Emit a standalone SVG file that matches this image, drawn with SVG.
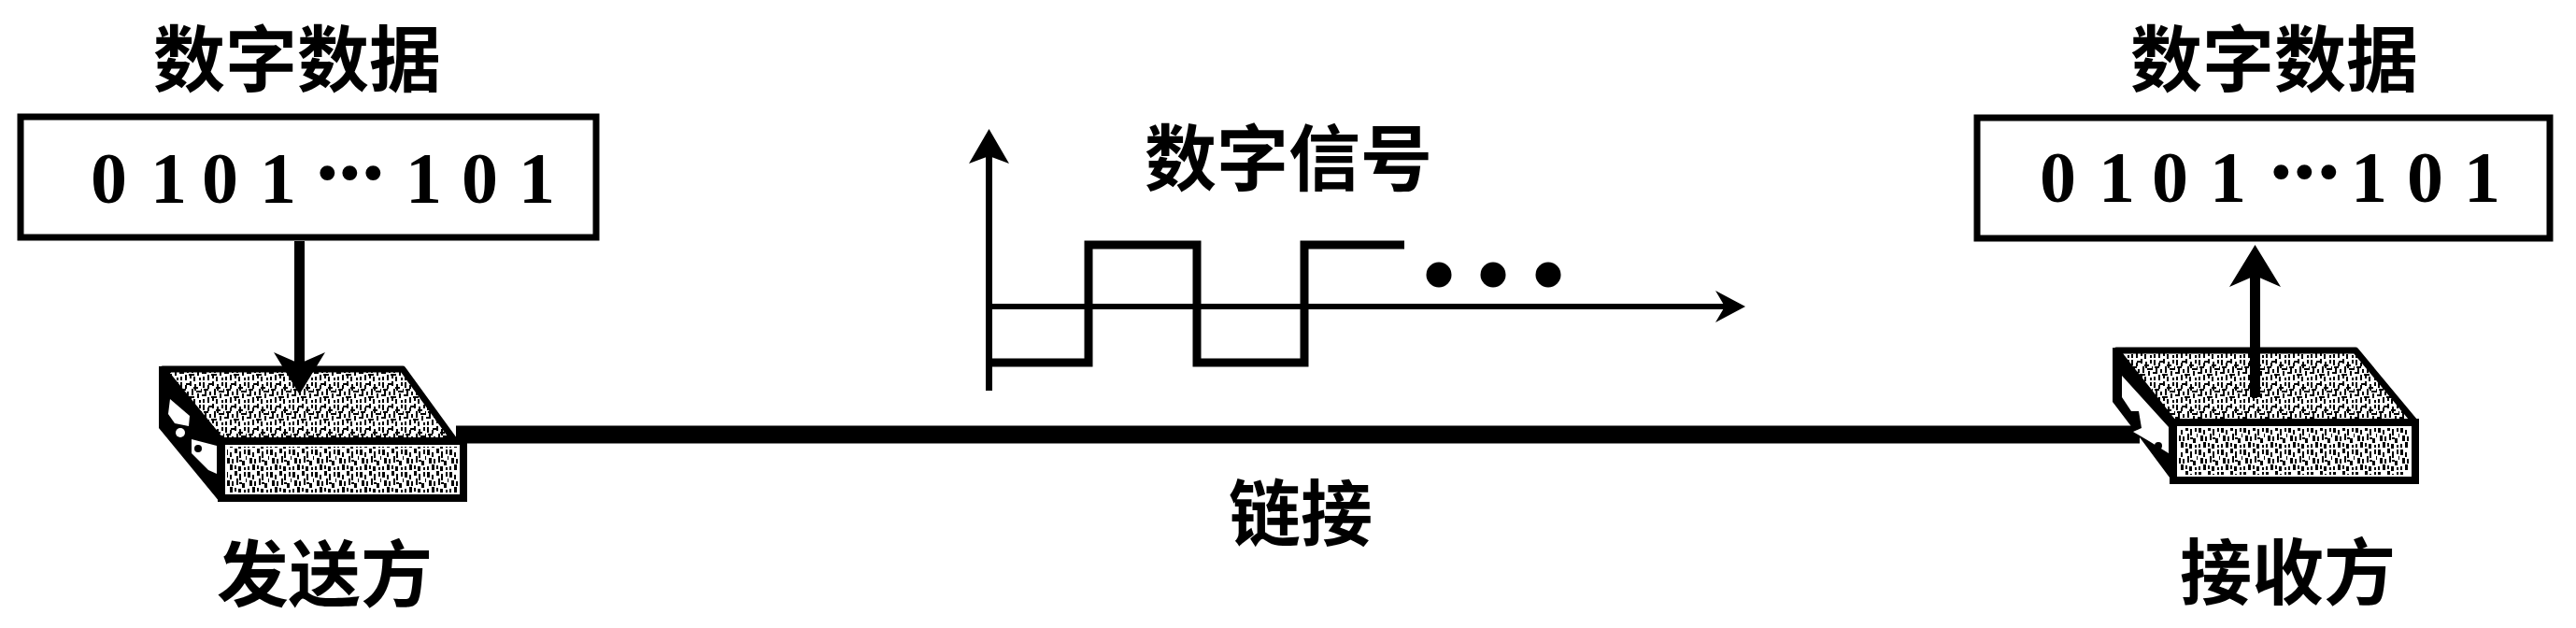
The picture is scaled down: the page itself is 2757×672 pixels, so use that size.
<svg xmlns="http://www.w3.org/2000/svg" width="2757" height="672" viewBox="0 0 2757 672">
<style>
.cjk{font-family:"Noto Sans CJK SC","Noto Sans CJK JP",sans-serif;font-weight:700;font-size:77px;fill:#000}
.num{font-family:"Liberation Serif",serif;font-weight:700;font-size:78px;fill:#000}
.dots{font-size:98px}
.box{fill:#fff;stroke:#000;stroke-width:7}
.topface{fill:url(#stippleTop);stroke:#000;stroke-width:7;stroke-linejoin:round}
.front{fill:#fff;stroke:#000;stroke-width:8}
.frontfill{fill:url(#stippleFront)}
.wire{fill:none;stroke:#000}
</style>
<defs>
<pattern id="stippleTop" width="24" height="24" patternUnits="userSpaceOnUse">
<rect width="24" height="24" fill="#fff"/>
<path d="M1 1h2v6h-2zM6 4h2v4h-2zM11 0h2v5h-2zM16 3h2v7h-2zM21 1h2v4h-2zM3 10h2v6h-2zM8 11h2v4h-2zM13 8h2v7h-2zM19 13h2v5h-2zM23 8h1v4h-1zM1 19h2v4h-2zM6 17h2v6h-2zM11 18h2v3h-2zM15 19h2v5h-2zM21 20h2v3h-2zM2 8h5v2h-5zM10 16h6v2h-6zM15 6h5v2h-5zM0 14h4v2h-4zM18 10h6v2h-6zM7 2h5v2h-5z" fill="#000"/>
</pattern>
<pattern id="stippleFront" width="24" height="24" patternUnits="userSpaceOnUse">
<rect width="24" height="24" fill="#fff"/>
<path d="M1 1h3v6h-3zM6 4h2v5h-2zM11 0h3v5h-3zM16 3h2v7h-2zM21 1h2v5h-2zM3 10h3v6h-3zM8 11h2v5h-2zM13 8h2v7h-2zM19 13h3v5h-3zM23 8h1v4h-1zM1 19h2v4h-2zM6 17h3v6h-3zM11 18h2v4h-2zM15 19h3v5h-3zM21 20h2v3h-2zM16 12h3v2h-3z" fill="#000"/>
</pattern>
<marker id="headBig" markerUnits="userSpaceOnUse" viewBox="0 0 45 55" markerWidth="45" markerHeight="55" refX="12" refY="27.5" orient="auto">
<path d="M0 0L45 27.500L0 55L12 27.500Z" fill="#000"/>
</marker>
<marker id="headY" markerUnits="userSpaceOnUse" viewBox="0 0 37 43" markerWidth="37" markerHeight="43" refX="8" refY="21.500" orient="auto">
<path d="M0 0L37 21.500L0 43L8 21.500Z" fill="#000"/>
</marker>
<marker id="headX" markerUnits="userSpaceOnUse" viewBox="0 0 32 34" markerWidth="32" markerHeight="34" refX="10" refY="17" orient="auto">
<path d="M0 0L32 17L0 34L10 17Z" fill="#000"/>
</marker>
</defs>
<rect width="2757" height="672" fill="#fff"/>
<g id="connectors">
<path class="wire" stroke-width="19" d="M488 465H2290"/>
</g>
<g id="sender">
<path d="M170 392V458L235 537L242 470L180 392Z" fill="#000"/>
<path d="M182 427L203 445L202 456L187 453L180 443Z" fill="#fff"/>
<circle cx="193" cy="463" r="5" fill="#fff"/>
<path d="M205 470L232 477V507L223 503L205 485Z" fill="#fff"/>
<circle cx="212" cy="480" r="4" fill="#000"/>
<path class="topface" d="M174 395H431L487 472H237Z"/>
<rect class="front" x="237" y="472" width="259" height="61"/>
<rect class="frontfill" x="243" y="478" width="247" height="49"/>
</g>
<g id="receiver">
<path d="M2261 372V430L2293 472L2325 515L2330 452L2275 375Z" fill="#000"/>
<path d="M2271 402L2321 457V485L2300 472L2283 462L2292 458L2289 440L2281 440L2271 425Z" fill="#fff"/>
<circle cx="2310" cy="477" r="4" fill="#000"/>
<path class="topface" d="M2265 375H2521L2585 452H2326Z"/>
<rect class="front" x="2326" y="452" width="259" height="62"/>
<rect class="frontfill" x="2332" y="458" width="247" height="50"/>
</g>
<g id="sender-data">
<text class="cjk" x="164" y="92">数字数据</text>
<rect class="box" x="22" y="125" width="616" height="129"/>
<text class="num" y="217"><tspan x="97 161 216 278">0101</tspan><tspan class="dots" x="334 358 383">···</tspan><tspan x="434 494 555">101</tspan></text>
</g>
<g id="receiver-data">
<text class="cjk" x="2280" y="92">数字数据</text>
<rect class="box" x="2116" y="126" width="613" height="129"/>
<text class="num" y="216"><tspan x="2183 2246 2303 2365">0101</tspan><tspan class="dots" x="2425 2450 2476">···</tspan><tspan x="2516 2576 2637">101</tspan></text>
</g>
<g id="signal-chart">
<text class="cjk" x="1225" y="198">数字信号</text>
<path class="wire" stroke-width="7" d="M1058.500 418V167" marker-end="url(#headY)"/>
<path class="wire" stroke-width="6" d="M1058 328H1846" marker-end="url(#headX)"/>
<path class="wire" stroke-width="9" d="M1062 388H1165V262H1281V388H1396V262H1503"/>
<circle cx="1540" cy="294" r="13.500"/><circle cx="1598" cy="294" r="13.500"/><circle cx="1657" cy="294" r="13.500"/>
</g>
<g id="labels">
<text class="cjk" x="1315" y="578">链接</text>
<text class="cjk" x="232" y="643">发送方</text>
<text class="cjk" x="2333" y="641">接收方</text>
</g>
<g id="arrows">
<path class="wire" stroke-width="11" d="M320.500 258V389" marker-end="url(#headBig)"/>
<path class="wire" stroke-width="11" d="M2413.500 425V295" marker-end="url(#headBig)"/>
</g>
</svg>
